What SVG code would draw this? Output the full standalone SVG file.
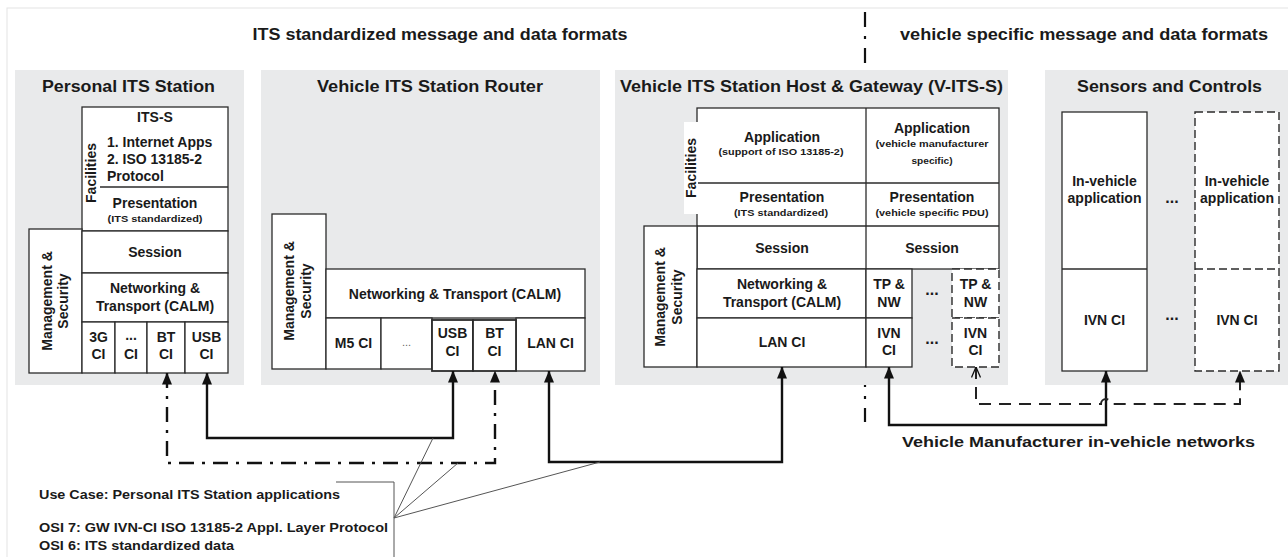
<svg xmlns="http://www.w3.org/2000/svg" width="1288" height="557" viewBox="0 0 1288 557">
<style>
.panel{fill:#e9eaeb}
.box{fill:#fff;stroke:#2b2b2b;stroke-width:1.3}
.bold2{fill:#fff;stroke:#2b2b2b;stroke-width:1.8}
.dbox{fill:#fff;stroke:#2b2b2b;stroke-width:1.4;stroke-dasharray:8 4}
.ln{stroke:#2b2b2b;stroke-width:1.3;fill:none}
.dln{stroke:#2b2b2b;stroke-width:1.4;fill:none;stroke-dasharray:8 4}
.t{font-family:"Liberation Sans",Arial,sans-serif;font-weight:bold;font-size:14px;fill:#1a1a1a;text-anchor:middle}
.ttl{font-size:16px}
.hdr{font-size:16px}
.sm{font-size:9px}
.lft{text-anchor:start}
.cl{font-size:12px}
.dots{font-size:16px}
.gdots{font-weight:normal;fill:#666;font-size:11px}
.conn{fill:none;stroke:#111;stroke-width:2.4}
.dd{fill:none;stroke:#111;stroke-width:2.4;stroke-dasharray:15 8 3 8}
.dsh{fill:none;stroke:#222;stroke-width:2;stroke-dasharray:12 8}
.lead{fill:none;stroke:#555;stroke-width:1}
</style>
<defs>
<marker id="ah" viewBox="0 0 12 10" refX="11.5" refY="5" markerWidth="12" markerHeight="10" markerUnits="userSpaceOnUse" orient="auto-start-reverse"><path d="M0,0 L12,5 L0,10 z" fill="#111"/></marker>
<marker id="ao" viewBox="0 0 11 10" refX="10.5" refY="5" markerWidth="11" markerHeight="10" markerUnits="userSpaceOnUse" orient="auto-start-reverse"><path d="M0,0.5 L10.5,5 L0,9.5" fill="none" stroke="#111" stroke-width="1.3"/></marker>
</defs>
<rect x="0" y="0" width="1288" height="557" fill="#fff"/>
<rect x="7" y="8" width="1300" height="600" fill="none" stroke="#e4e4e4" stroke-width="1"/>

<g id="header">
<text class="t hdr" x="440" y="40" textLength="375" lengthAdjust="spacingAndGlyphs">ITS standardized message and data formats</text>
<text class="t hdr" x="1084" y="40" textLength="368" lengthAdjust="spacingAndGlyphs">vehicle specific message and data formats</text>
<line x1="865" y1="12" x2="865" y2="422" stroke="#111" stroke-width="2.2" stroke-dasharray="15 9 3 9"/>
</g>

<g id="personal-its-station">
<rect class="panel" x="15" y="70" width="229" height="315"/>
<text class="t ttl" x="128.5" y="92" textLength="173" lengthAdjust="spacingAndGlyphs">Personal ITS Station</text>
<rect class="box" x="82" y="107" width="146" height="124"/>
<line class="ln" x1="100" y1="187" x2="228" y2="187"/>
<text class="t" x="155" y="122">ITS-S</text>
<text class="t lft" x="107" y="147">1. Internet Apps</text>
<text class="t lft" x="107" y="164">2. ISO 13185-2</text>
<text class="t lft" x="107" y="181">Protocol</text>
<text class="t" transform="translate(96,173) rotate(-90)">Facilities</text>
<text class="t" x="155" y="208">Presentation</text>
<text class="t sm" x="155" y="222" textLength="95" lengthAdjust="spacingAndGlyphs">(ITS standardized)</text>
<rect class="box" x="29" y="229" width="53" height="144"/>
<text class="t" transform="translate(52,301) rotate(-90)">Management &amp;</text>
<text class="t" transform="translate(68,301) rotate(-90)">Security</text>
<rect class="box" x="82" y="231" width="146" height="42"/>
<text class="t" x="155" y="257">Session</text>
<rect class="box" x="82" y="273" width="146" height="49"/>
<text class="t" x="155" y="293">Networking &amp;</text>
<text class="t" x="155" y="311">Transport (CALM)</text>
<rect class="box" x="82" y="322" width="33" height="51"/>
<rect class="box" x="115" y="322" width="32" height="51"/>
<rect class="box" x="147" y="322" width="38" height="51"/>
<rect class="box" x="185" y="322" width="43" height="51"/>
<text class="t" x="98.5" y="342">3G</text><text class="t" x="98.5" y="359">CI</text>
<text class="t" x="131" y="340">...</text><text class="t" x="131" y="359">CI</text>
<text class="t" x="166" y="342">BT</text><text class="t" x="166" y="359">CI</text>
<text class="t" x="206.5" y="342">USB</text><text class="t" x="206.5" y="359">CI</text>
</g>

<g id="vehicle-its-station-router">
<rect class="panel" x="261" y="70" width="339" height="315"/>
<text class="t ttl" x="430" y="92" textLength="226" lengthAdjust="spacingAndGlyphs">Vehicle ITS Station Router</text>
<rect class="box" x="272" y="214" width="54" height="155"/>
<text class="t" transform="translate(294,291) rotate(-90)">Management &amp;</text>
<text class="t" transform="translate(311,291) rotate(-90)">Security</text>
<rect class="box" x="326" y="269" width="259" height="49"/>
<text class="t" x="455" y="299">Networking &amp; Transport (CALM)</text>
<rect class="box" x="326" y="318" width="55" height="51"/>
<text class="t" x="353.5" y="348">M5 CI</text>
<rect class="box" x="381" y="318" width="51" height="51"/>
<text class="t gdots" x="406.5" y="346">...</text>
<rect class="box" x="516" y="318" width="69" height="53"/>
<text class="t" x="550.5" y="348">LAN CI</text>
<rect class="bold2" x="432" y="320" width="41" height="51"/>
<rect class="bold2" x="473" y="320" width="43" height="51"/>
<text class="t" x="452.5" y="338">USB</text><text class="t" x="452.5" y="356">CI</text>
<text class="t" x="494.5" y="338">BT</text><text class="t" x="494.5" y="356">CI</text>
</g>

<g id="vehicle-its-station-host-gateway">
<rect class="panel" x="615" y="70" width="393" height="315"/>
<text class="t ttl" x="811.5" y="92" textLength="383" lengthAdjust="spacingAndGlyphs">Vehicle ITS Station Host &amp; Gateway (V-ITS-S)</text>
<rect class="box" x="697" y="108" width="302" height="161"/>
<line class="ln" x1="697" y1="183" x2="999" y2="183"/>
<line class="ln" x1="697" y1="226" x2="999" y2="226"/>
<line class="ln" x1="866" y1="108" x2="866" y2="269"/>
<rect x="684" y="122" width="14" height="92" fill="#fff"/>
<text class="t" transform="translate(696,168) rotate(-90)">Facilities</text>
<text class="t" x="782" y="142">Application</text>
<text class="t sm" x="781" y="155" textLength="125" lengthAdjust="spacingAndGlyphs">(support of ISO 13185-2)</text>
<text class="t" x="932" y="133">Application</text>
<text class="t sm" x="932" y="147" textLength="113" lengthAdjust="spacingAndGlyphs">(vehicle manufacturer</text>
<text class="t sm" x="932" y="164" textLength="41" lengthAdjust="spacingAndGlyphs">specific)</text>
<text class="t" x="782" y="202">Presentation</text>
<text class="t sm" x="781" y="216" textLength="94" lengthAdjust="spacingAndGlyphs">(ITS standardized)</text>
<text class="t" x="932" y="202">Presentation</text>
<text class="t sm" x="932" y="216" textLength="113" lengthAdjust="spacingAndGlyphs">(vehicle specific PDU)</text>
<text class="t" x="782" y="253">Session</text>
<text class="t" x="932" y="253">Session</text>
<rect class="box" x="644" y="226" width="53" height="141"/>
<text class="t" transform="translate(665,297) rotate(-90)">Management &amp;</text>
<text class="t" transform="translate(682,297) rotate(-90)">Security</text>
<rect class="box" x="697" y="269" width="169" height="49"/>
<text class="t" x="782" y="289">Networking &amp;</text>
<text class="t" x="782" y="307">Transport (CALM)</text>
<rect class="box" x="866" y="269" width="46" height="49"/>
<text class="t" x="889" y="289">TP &amp;</text><text class="t" x="889" y="307">NW</text>
<rect class="box" x="697" y="318" width="169" height="49"/>
<text class="t" x="782" y="347">LAN CI</text>
<rect class="box" x="866" y="318" width="46" height="49"/>
<text class="t" x="889" y="338">IVN</text><text class="t" x="889" y="355">CI</text>
<text class="t dots" x="932" y="295">...</text>
<text class="t dots" x="932" y="344">...</text>
<rect class="dbox" x="952" y="269" width="47" height="49"/>
<text class="t" x="975.5" y="289">TP &amp;</text><text class="t" x="975.5" y="307">NW</text>
<rect class="dbox" x="952" y="318" width="47" height="49"/>
<text class="t" x="975.5" y="338">IVN</text><text class="t" x="975.5" y="355">CI</text>
</g>

<g id="sensors-and-controls">
<rect class="panel" x="1045" y="70" width="243" height="315"/>
<text class="t ttl" x="1169.5" y="92" textLength="185" lengthAdjust="spacingAndGlyphs">Sensors and Controls</text>
<rect class="box" x="1062" y="112" width="85" height="259"/>
<line class="ln" x1="1062" y1="269" x2="1147" y2="269"/>
<text class="t" x="1104.5" y="186">In-vehicle</text>
<text class="t" x="1104.5" y="203">application</text>
<text class="t" x="1104.5" y="325">IVN CI</text>
<text class="t dots" x="1172" y="203">...</text>
<text class="t dots" x="1172" y="320">...</text>
<rect class="dbox" x="1195" y="112" width="84" height="259"/>
<line class="dln" x1="1195" y1="269" x2="1279" y2="269"/>
<text class="t" x="1237" y="186">In-vehicle</text>
<text class="t" x="1237" y="203">application</text>
<text class="t" x="1237" y="325">IVN CI</text>
</g>

<g id="connectors">
<path class="dd" d="M167,373 L167,463 L495,463 L495,371" marker-start="url(#ah)" marker-end="url(#ah)"/>
<path class="conn" d="M207,373 L207,438 L453,438 L453,371" marker-start="url(#ah)" marker-end="url(#ah)"/>
<path class="conn" d="M549,371 L549,462 L782,462 L782,367" marker-start="url(#ah)" marker-end="url(#ah)"/>
<path class="conn" d="M889,367 L889,425 L1106,425 L1106,371" marker-start="url(#ah)" marker-end="url(#ah)"/>
<path class="dsh" d="M976,367 L976,404 L1101,404 A5,5 0 0 1 1111,404 L1240,404 L1240,371" marker-start="url(#ao)" marker-end="url(#ah)"/>
<polyline class="lead" points="336,482 394,482 394,557"/>
<line class="lead" x1="394" y1="518" x2="433" y2="438"/>
<line class="lead" x1="394" y1="518" x2="458" y2="463"/>
<line class="lead" x1="394" y1="518" x2="600" y2="462"/>
</g>

<g id="labels">
<text class="t" x="1078.5" y="447" font-size="16" textLength="353" lengthAdjust="spacingAndGlyphs">Vehicle Manufacturer in-vehicle networks</text>
<text class="t lft cl" x="39" y="499" textLength="301" lengthAdjust="spacingAndGlyphs">Use Case: Personal ITS Station applications</text>
<text class="t lft cl" x="39" y="532" textLength="349" lengthAdjust="spacingAndGlyphs">OSI 7: GW IVN-CI ISO 13185-2 Appl. Layer Protocol</text>
<text class="t lft cl" x="39" y="550" textLength="195" lengthAdjust="spacingAndGlyphs">OSI 6: ITS standardized data</text>
</g>
</svg>
